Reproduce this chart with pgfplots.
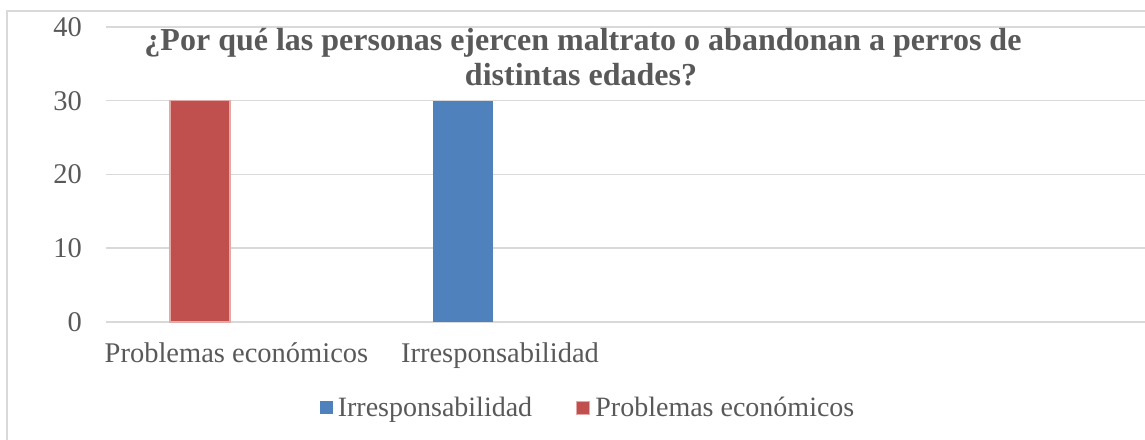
\documentclass[border=0pt]{standalone}
\usepackage{pgfplots}
\pgfplotsset{compat=1.18}
\usepackage{fontspec}
\setmainfont{Liberation Serif}
\definecolor{txt}{HTML}{595959}
\definecolor{gridc}{HTML}{D9D9D9}
\definecolor{barblue}{HTML}{4F81BD}
\definecolor{barred}{HTML}{C0504D}
\definecolor{rededge}{HTML}{E3A9A7}
\begin{document}
\begin{tikzpicture}
\begin{axis}[
  x=1pt, y=7.375pt,
  xmin=106, xmax=1145, ymin=0, ymax=40,
  clip=false,
  axis line style={draw=none},
  tick style={draw=none},
  major tick length=0pt,
  ytick={0,10,20,30,40},
  ymajorgrids,
  grid style={gridc, line width=1.5pt},
  xtick={236.5,500},
  xticklabels={Problemas económicos, Irresponsabilidad},
  xticklabel style={anchor=base, yshift=-41pt, inner sep=0pt, text=txt},
  yticklabel style={anchor=east, xshift=-24pt, inner sep=0pt, text=txt},
  /pgf/number format/assume math mode=true,
  ticklabel style={font=\fontsize{28.5}{30}\selectfont},
  ybar, bar width=60, bar shift=0pt,
  legend columns=2,
  legend style={draw=none, fill=none, at={(rel axis cs:0.464,-0.2915)}, anchor=center,
    font=\fontsize{28}{30}\selectfont, text=txt, column sep=0pt,
    /tikz/every even column/.append style={column sep=42pt},
    inner sep=0pt},
  legend image code/.code={\fill[#1] (0pt,-6.5pt) rectangle (13pt,6.5pt);},
]
\addplot[fill=barblue, draw=none] coordinates {(463,30)};
\addlegendentry{\hspace{3pt}Irresponsabilidad}
\addplot[fill=barred, draw=rededge, line width=1.2pt] coordinates {(200,30)};
\addlegendentry{\hspace{3pt}Problemas económicos}
\draw[gridc, line width=1.5pt] (axis cs:7,-17) -- (axis cs:7,42.17) -- (axis cs:1160,42.17);
\node[anchor=base, text=txt, font=\fontsize{32}{34}\selectfont\bfseries] at (axis cs:583,36.88) {¿Por qué las personas ejercen maltrato o abandonan a perros de};
\node[anchor=base, text=txt, font=\fontsize{32}{34}\selectfont\bfseries] at (axis cs:581,32.0) {distintas edades?};
\coordinate (bbsw) at (axis cs:0,-16);
\coordinate (bbne) at (axis cs:1145,43.66);
\end{axis}
\pgfresetboundingbox
\useasboundingbox (bbsw) rectangle (bbne);
\end{tikzpicture}
\end{document}
